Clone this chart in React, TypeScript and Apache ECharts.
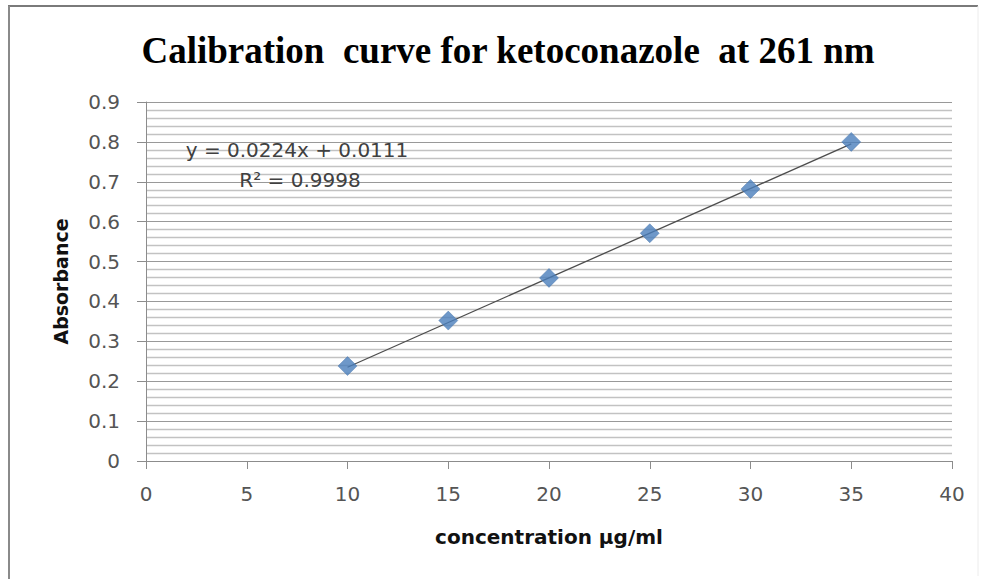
import React, { useEffect, useRef } from "react";
import * as echarts from "echarts";

const concentrations = [10, 15, 20, 25, 30, 35];
const absorbances = [0.238, 0.352, 0.459, 0.571, 0.682, 0.8];
const slope = 0.0224;
const intercept = 0.0111;
const trendRange = [10, 35];
const xTicks = [0, 5, 10, 15, 20, 25, 30, 35, 40];
const yTicks = [0, 0.1, 0.2, 0.3, 0.4, 0.5, 0.6, 0.7, 0.8, 0.9];
const titleText = "Calibration  curve for ketoconazole  at 261 nm";
const xName = "concentration \u03bcg/ml";
const yName = "Absorbance";
const eqLine1 = "y = 0.0224x + 0.0111";
const eqLine2 = "R\u00b2 = 0.9998";

export default function App() {
  const ref = useRef<HTMLDivElement>(null);
  useEffect(() => {
    if (!ref.current) return;
    const chart = echarts.init(ref.current, null, { renderer: "svg" });
    const sans = "DejaVu Sans";
    chart.setOption({
      animation: false,
      backgroundColor: "#ffffff",
      title: {
        text: titleText,
        left: 503,
        textAlign: "center",
        top: 27,
        textStyle: {
          fontFamily: "Liberation Serif",
          fontWeight: "bold",
          fontSize: 37,
          color: "#000000",
        },
      },
      grid: { left: 146, right: 32, top: 102, bottom: 118 },
      xAxis: {
        type: "value",
        min: xTicks[0],
        max: xTicks[xTicks.length - 1],
        interval: 5,
        name: xName,
        nameLocation: "middle",
        nameGap: 66,
        nameTextStyle: { fontFamily: sans, fontWeight: "bold", fontSize: 20, color: "#111111" },
        axisLine: { show: true, lineStyle: { color: "#8c8c8c", width: 1 } },
        axisTick: { show: true, inside: false, length: 8, lineStyle: { color: "#8c8c8c" } },
        axisLabel: { margin: 23, fontFamily: sans, fontSize: 20, color: "#555555" },
        splitLine: { show: false },
      },
      yAxis: {
        type: "value",
        min: yTicks[0],
        max: yTicks[yTicks.length - 1],
        interval: 0.1,
        name: yName,
        nameLocation: "middle",
        nameGap: 76,
        nameRotate: 90,
        nameTextStyle: { fontFamily: sans, fontWeight: "bold", fontSize: 19, color: "#111111" },
        axisLine: { show: true, lineStyle: { color: "#8c8c8c", width: 1 } },
        axisTick: { show: true, length: 9, lineStyle: { color: "#8c8c8c" } },
        axisLabel: {
          margin: 26,
          fontFamily: sans,
          fontSize: 20,
          color: "#555555",
          formatter: (v: number) => (v === 0 ? "0" : v.toFixed(1)),
        },
        splitLine: { show: true, lineStyle: { color: "#999999", width: 1 } },
        minorTick: { show: false, splitNumber: 5 },
        minorSplitLine: { show: true, lineStyle: { color: "#c2c2c2", width: 1.3 } },
      },
      series: [
        {
          type: "line",
          data: trendRange.map((x) => [x, slope * x + intercept]),
          symbol: "none",
          lineStyle: { color: "#4d4d4d", width: 1.3 },
          z: 2,
        },
        {
          type: "scatter",
          data: concentrations.map((c, i) => [c, absorbances[i]]),
          symbol: "diamond",
          symbolSize: [19, 19],
          itemStyle: { color: "#4a7ebb", borderColor: "#3f6fa8", borderWidth: 0.5 },
          z: 3,
        },
      ],
      graphic: [
        {
          type: "line",
          shape: { x1: 8, y1: 6, x2: 978, y2: 6 },
          style: { stroke: "#7a7a7a", lineWidth: 2 },
        },
        {
          type: "line",
          shape: { x1: 9, y1: 6, x2: 9, y2: 579 },
          style: { stroke: "#8a8a8a", lineWidth: 2 },
        },
        {
          type: "line",
          shape: { x1: 978, y1: 6, x2: 978, y2: 576 },
          style: { stroke: "#ececec", lineWidth: 1 },
        },
        {
          type: "text",
          x: 297,
          y: 150,
          style: {
            text: eqLine1,
            textAlign: "center",
            textVerticalAlign: "middle",
            fontFamily: sans,
            fontSize: 20,
            fill: "#404040",
          },
          z: 10,
        },
        {
          type: "text",
          x: 300,
          y: 180,
          style: {
            text: eqLine2,
            textAlign: "center",
            textVerticalAlign: "middle",
            fontFamily: sans,
            fontSize: 20,
            fill: "#404040",
          },
          z: 10,
        },
      ],
    });
    return () => chart.dispose();
  }, []);
  return (
    <div
      ref={ref}
      style={{ position: "absolute", left: 0, top: 0, width: 984, height: 579 }}
    />
  );
}
